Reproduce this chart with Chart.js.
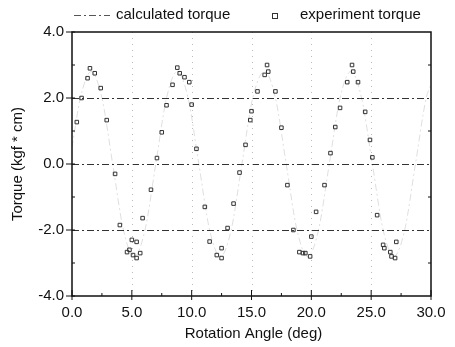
<!DOCTYPE html>
<html lang="en">
<head>
<meta charset="UTF-8">
<title>Torque vs Rotation Angle</title>
<script src="https://cdn.jsdelivr.net/npm/chart.js"></script>
<style>
    body { margin: 0; background: #fff; }
    #wrap { width: 455px; height: 347px; }
</style>
</head>
<body>
<div id="wrap"><canvas id="torqueChart" width="455" height="347"></canvas></div>
<script>
// calculated torque (dash-dot line)
const calcAngle = [0.0, 0.7, 1.6, 2.5, 3.4, 4.3, 5.2, 6.1, 7.0, 7.9, 8.8, 9.7, 10.6, 11.5, 12.4, 13.3,
    14.2, 15.1, 16.1, 17.0, 17.9, 18.8, 19.7, 20.6, 21.5, 22.4, 23.3, 24.2, 25.1, 26.0, 26.9, 27.8, 28.7, 29.6, 30.0];
const calcTorque = [0.5, 2.0, 2.8, 2.0, 0.0, -2.0, -2.8, -2.0, 0.0, 2.0, 2.8, 2.0, 0.0, -2.0, -2.8, -2.0,
    0.0, 2.0, 2.8, 2.0, 0.0, -2.0, -2.8, -2.0, 0.0, 2.0, 2.8, 2.0, 0.0, -2.0, -2.8, -2.0, 0.0, 2.0, 2.4];

// experiment torque (open squares)
const expAngle = [0.4, 0.8, 1.3, 1.5, 1.9, 2.4, 2.9, 3.6, 4.0, 4.6, 4.8, 5.0, 5.1, 5.4, 5.4, 5.7, 5.9,
    6.6, 7.1, 7.5, 7.9, 8.4, 8.8, 9.0, 9.4, 9.8, 10.0, 10.4, 11.1, 11.5, 12.1, 12.5, 12.5, 13.0, 13.5,
    14.0, 14.5, 14.9, 15.0, 15.5, 16.1, 16.3, 16.4, 17.0, 17.5, 18.0, 18.5, 19.0, 19.3, 19.5, 19.9, 20.0,
    20.4, 21.1, 21.6, 22.0, 22.4, 23.0, 23.4, 23.5, 23.9, 24.5, 24.9, 25.1, 25.5, 26.0, 26.1, 26.6, 26.7,
    27.0, 27.1];
const expTorque = [1.27, 2.0, 2.6, 2.9, 2.75, 2.3, 1.33, -0.3, -1.85, -2.67, -2.6, -2.3, -2.76, -2.36, -2.85, -2.7, -1.64,
    -0.78, 0.18, 0.96, 1.78, 2.4, 2.92, 2.75, 2.63, 2.48, 1.8, 0.46, -1.3, -2.35, -2.76, -2.55, -2.85, -1.94, -1.2,
    -0.26, 0.58, 1.33, 1.6, 2.2, 2.7, 3.0, 2.8, 2.2, 1.1, -0.64, -2.0, -2.67, -2.7, -2.7, -2.8, -2.2,
    -1.45, -0.64, 0.33, 1.12, 1.7, 2.48, 3.0, 2.8, 2.48, 1.58, 0.73, 0.2, -1.55, -2.45, -2.55, -2.67, -2.8,
    -2.85, -2.36];

const xTicks = [0, 5, 10, 15, 20, 25, 30];
const yTicks = [-4, -2, 0, 2, 4];

const FONT = "'Liberation Sans', Arial, sans-serif";
const INK = '#111';

// frame, grid, ticks, legend and axis titles
const decorations = {
    id: 'decorations',
    beforeDatasetsDraw(chart) {
        const { ctx, chartArea: a, scales: { x, y } } = chart;
        ctx.save();
        ctx.strokeStyle = '#333';
        ctx.lineWidth = 1;
        ctx.setLineDash([7, 3, 2, 3]);
        yTicks.forEach(v => {
            if (v === 4 || v === -4) return;
            const py = Math.round(y.getPixelForValue(v)) + 0.5;
            ctx.beginPath(); ctx.moveTo(a.left, py); ctx.lineTo(a.right, py); ctx.stroke();
        });
        ctx.strokeStyle = '#bbb';
        ctx.setLineDash([1, 5]);
        xTicks.forEach(v => {
            if (v === 0 || v === 30) return;
            const px = Math.round(x.getPixelForValue(v)) + 0.5;
            ctx.beginPath(); ctx.moveTo(px, a.top); ctx.lineTo(px, a.bottom); ctx.stroke();
        });
        ctx.restore();
    },
    afterDraw(chart) {
        const { ctx, chartArea: a, scales: { x, y } } = chart;
        ctx.save();
        ctx.strokeStyle = INK;
        ctx.setLineDash([]);
        // frame
        ctx.lineWidth = 1.5;
        ctx.strokeRect(a.left, a.top, a.right - a.left, a.bottom - a.top);
        ctx.lineWidth = 1;
        // x ticks (inward) + minor
        xTicks.forEach((v, i) => {
            const px = x.getPixelForValue(v);
            ctx.beginPath(); ctx.moveTo(px, a.bottom + 4); ctx.lineTo(px, a.bottom - 6); ctx.stroke();
            if (i < xTicks.length - 1) {
                const pm = x.getPixelForValue(v + 2.5);
                ctx.beginPath(); ctx.moveTo(pm, a.bottom); ctx.lineTo(pm, a.bottom - 3); ctx.stroke();
            }
        });
        // y ticks (outward) + minor
        yTicks.forEach((v, i) => {
            const py = y.getPixelForValue(v);
            ctx.beginPath(); ctx.moveTo(a.left - 6, py); ctx.lineTo(a.left + 3, py); ctx.stroke();
            if (i < yTicks.length - 1) {
                const pm = y.getPixelForValue(v + 1);
                ctx.beginPath(); ctx.moveTo(a.left, pm); ctx.lineTo(a.left + 3, pm); ctx.stroke();
                ctx.beginPath(); ctx.moveTo(a.right, pm); ctx.lineTo(a.right - 3, pm); ctx.stroke();
            }
        });

        // axis titles
        ctx.fillStyle = INK;
        ctx.font = '15px ' + FONT;
        ctx.textAlign = 'center';
        ctx.textBaseline = 'middle';
        ctx.fillText('Rotation Angle (deg)', (a.left + a.right) / 2 + 2, 334);
        ctx.save();
        ctx.translate(18, (a.top + a.bottom) / 2);
        ctx.rotate(-Math.PI / 2);
        ctx.fillText('Torque (kgf * cm)', 0, 0);
        ctx.restore();

        // legend
        ctx.strokeStyle = '#555';
        ctx.setLineDash([7, 3, 2, 3]);
        ctx.beginPath(); ctx.moveTo(74, 15.5); ctx.lineTo(110, 15.5); ctx.stroke();
        ctx.setLineDash([]);
        ctx.textAlign = 'left';
        ctx.fillText('calculated torque', 116, 15);
        ctx.strokeStyle = '#333';
        ctx.strokeRect(272.5, 13.5, 5, 5);
        ctx.fillText('experiment torque', 300, 15);
        ctx.restore();
    }
};

new Chart(document.getElementById('torqueChart'), {
    type: 'scatter',
    data: {
        datasets: [
            {
                label: 'calculated torque',
                type: 'line',
                data: calcAngle.map((v, i) => ({ x: v, y: calcTorque[i] })),
                borderColor: 'rgba(0,0,0,0.13)',
                borderWidth: 1,
                borderDash: [7, 3, 2, 3],
                pointRadius: 0,
                cubicInterpolationMode: 'monotone',
                fill: false
            },
            {
                label: 'experiment torque',
                data: expAngle.map((v, i) => ({ x: v, y: expTorque[i] })),
                pointStyle: 'rect',
                pointRadius: 2.5,
                borderWidth: 1,
                borderColor: '#333',
                backgroundColor: 'rgba(255,255,255,0)'
            }
        ]
    },
    options: {
        responsive: false,
        animation: false,
        layout: { padding: { top: 32, right: 24, left: 0, bottom: 0 } },
        plugins: { legend: { display: false }, tooltip: { enabled: false } },
        scales: {
            x: {
                type: 'linear',
                min: 0, max: 30,
                afterFit(s) { s.height = 51; },
                afterBuildTicks(s) { s.ticks = xTicks.map(v => ({ value: v })); },
                grid: { display: false },
                border: { display: false },
                ticks: {
                    color: INK,
                    font: { family: FONT, size: 15 },
                    padding: 0,
                    maxRotation: 0,
                    callback: v => v.toFixed(1)
                }
            },
            y: {
                min: -4, max: 4,
                afterFit(s) { s.width = 72; },
                afterBuildTicks(s) { s.ticks = yTicks.map(v => ({ value: v })); },
                grid: { display: false },
                border: { display: false },
                ticks: {
                    color: INK,
                    font: { family: FONT, size: 15 },
                    padding: 0,
                    callback: v => v.toFixed(1)
                }
            }
        }
    },
    plugins: [decorations]
});
</script>
</body>
</html>
